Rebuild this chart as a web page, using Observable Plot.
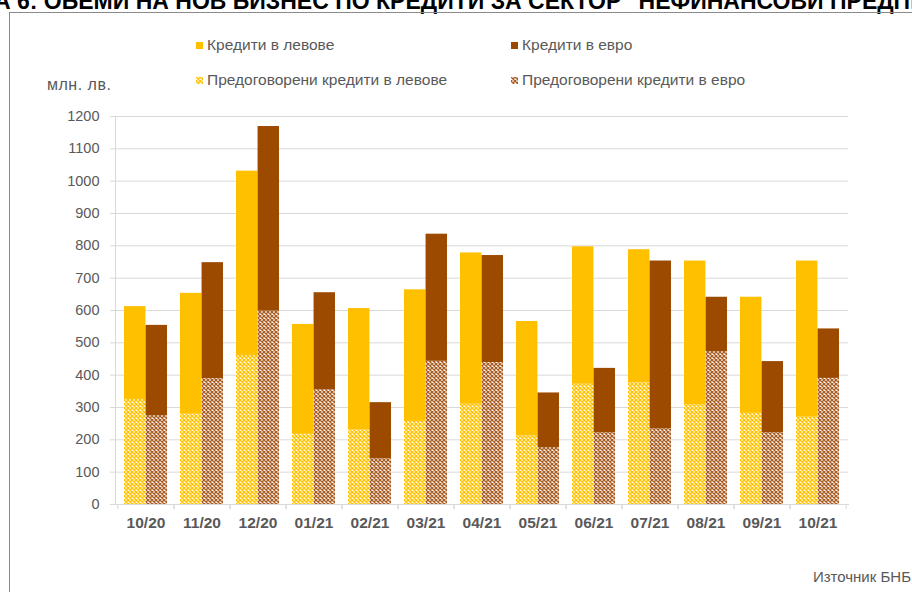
<!DOCTYPE html>
<html>
<head>
<meta charset="utf-8">
<script src="https://cdn.jsdelivr.net/npm/d3@7"></script>
<script src="https://cdn.jsdelivr.net/npm/@observablehq/plot@0.6"></script>
<style>
  html, body { margin: 0; padding: 0; background: #fff; }
  body { width: 912px; height: 592px; overflow: hidden; position: relative; font-family: "Liberation Sans", Arial, sans-serif; }
  .abs { position: absolute; white-space: nowrap; }
  #title { font-weight: bold; font-size: 23px; line-height: 23px; color: #000; top: -10.5px; }
  #frame { left: 9px; top: 12px; width: 1000px; height: 1000px; border: 1px solid #8a8a8a; box-shadow: 1px 1px 0 #cfcfcf; }
  .leg { font-size: 15.5px; line-height: 16px; color: #595959; display: flex; align-items: center; }
  .leg svg { margin-right: 4px; }
  #unit { left: 47px; top: 77px; font-size: 16px; line-height: 16px; color: #595959; letter-spacing: 0.5px; }
  #src { right: 1px; top: 569px; font-size: 15px; line-height: 16px; color: #595959; }
  #chart { left: 0; top: 0; }
</style>
</head>
<body>
<svg width="0" height="0" style="position:absolute">
  <defs>
    <pattern id="patLev" patternUnits="userSpaceOnUse" width="4" height="4">
      <rect width="4" height="4" fill="#fff"/>
      <path d="M0,0L4,4M4,0L0,4" stroke="#FFC000" stroke-width="1.3"/>
    </pattern>
    <pattern id="patEur" patternUnits="userSpaceOnUse" width="4" height="4">
      <rect width="4" height="4" fill="#fff"/>
      <path d="M0,0L4,4M4,0L0,4" stroke="#A85C22" stroke-width="1.3"/>
    </pattern>
  </defs>
</svg>
<div id="title" class="abs"><span id="tpre">ГРАФИК</span>А 6: ОБЕМИ НА НОВ БИЗНЕС ПО КРЕДИТИ ЗА СЕКТОР "НЕФИНАНСОВИ ПРЕДПРИЯТИЯ"</div>
<div id="frame" class="abs"></div>
<div id="chart" class="abs"></div>
<div id="legend"></div>
<div id="unit" class="abs">млн. лв.</div>
<div id="src" class="abs">Източник БНБ</div>
<script>
// ---- data ----
const months = ["10/20","11/20","12/20","01/21","02/21","03/21","04/21","05/21","06/21","07/21","08/21","09/21","10/21"];
const levTotal  = [612, 653, 1031, 557, 606, 664, 778, 566, 797, 788, 753, 641, 753];
const levPre    = [325, 279,  461, 217, 230, 257, 310, 212, 372, 376, 309, 282, 270];
const euroTotal = [554, 748, 1169, 655, 315, 836, 770, 345, 421, 753, 641, 442, 543];
const euroPre   = [275, 389,  598, 355, 141, 443, 439, 176, 222, 234, 473, 222, 390];
const yTicks = [0, 100, 200, 300, 400, 500, 600, 700, 800, 900, 1000, 1100, 1200];
const seriesNames = ["Кредити в левове", "Кредити в евро", "Предоговорени кредити в левове", "Предоговорени кредити в евро"];
const seriesFills = ["#FFC000", "#9C4A00", "url(#patLev)", "url(#patEur)"];

const rows = months.map((m, i) => ({month: m, levTotal: levTotal[i], levPre: levPre[i], euroTotal: euroTotal[i], euroPre: euroPre[i]}));

// ---- layout ----
const W = 912, H = 592, ML = 115, MR = 64, MT = 116, MB = 88;
const pIn = 0.236, pOut = 0.11;
const step = (W - ML - MR) / (months.length - pIn + 2 * pOut);
const half = step * (1 - pIn) / 2;

const chart = Plot.plot({
  width: W, height: H,
  marginLeft: ML, marginRight: MR, marginTop: MT, marginBottom: MB,
  style: {fontFamily: '"Liberation Sans", Arial, sans-serif', color: "#595959", background: "transparent", overflow: "visible"},
  x: {domain: months, type: "band", paddingInner: pIn, paddingOuter: pOut},
  y: {domain: [0, 1200]},
  marks: [
    Plot.gridY(yTicks, {stroke: "#d9d9d9", strokeOpacity: 1}),
    Plot.barY(rows, {x: "month", y1: 0, y2: "levPre", fill: seriesFills[2], insetRight: half}),
    Plot.barY(rows, {x: "month", y1: "levPre", y2: "levTotal", fill: seriesFills[0], insetRight: half}),
    Plot.barY(rows, {x: "month", y1: 0, y2: "euroPre", fill: seriesFills[3], insetLeft: half}),
    Plot.barY(rows, {x: "month", y1: "euroPre", y2: "euroTotal", fill: seriesFills[1], insetLeft: half}),
    Plot.frame({anchor: "left", stroke: "#d9d9d9"}),
    Plot.frame({anchor: "bottom", stroke: "#d9d9d9"}),
    Plot.axisY(yTicks, {tickSize: 5, tickPadding: 11, stroke: "#d9d9d9", fontSize: 14.5, tickFormat: d => String(d), label: null}),
    Plot.axisX({tickSize: 5, dx: -step / 2, stroke: "#d9d9d9", tickFormat: () => "", label: null}),
    Plot.axisX({tickSize: 5, dx: step / 2, stroke: "#d9d9d9", tickFormat: () => "", label: null}),
    Plot.axisX({tickSize: 0, tickPadding: 12, fontSize: 15.5, fontWeight: "bold", label: null})
  ]
});
document.getElementById("chart").appendChild(chart);

// ---- legend ----
const legPos = [[196, 37], [511, 37], [196, 72], [511, 72]];
const legend = document.getElementById("legend");
seriesNames.forEach((name, i) => {
  const d = document.createElement("div");
  d.className = "abs leg";
  d.style.left = legPos[i][0] + "px";
  d.style.top = legPos[i][1] + "px";
  d.innerHTML = `<svg width="7" height="7"><rect width="7" height="7" fill="${seriesFills[i]}"/></svg><span>${name}</span>`;
  legend.appendChild(d);
});

// ---- title offset (left part is cropped in the reference) ----
const t = document.getElementById("title");
const pw = document.getElementById("tpre").getBoundingClientRect().width;
t.style.left = (-pw - 6) + "px";
</script>
</body>
</html>
